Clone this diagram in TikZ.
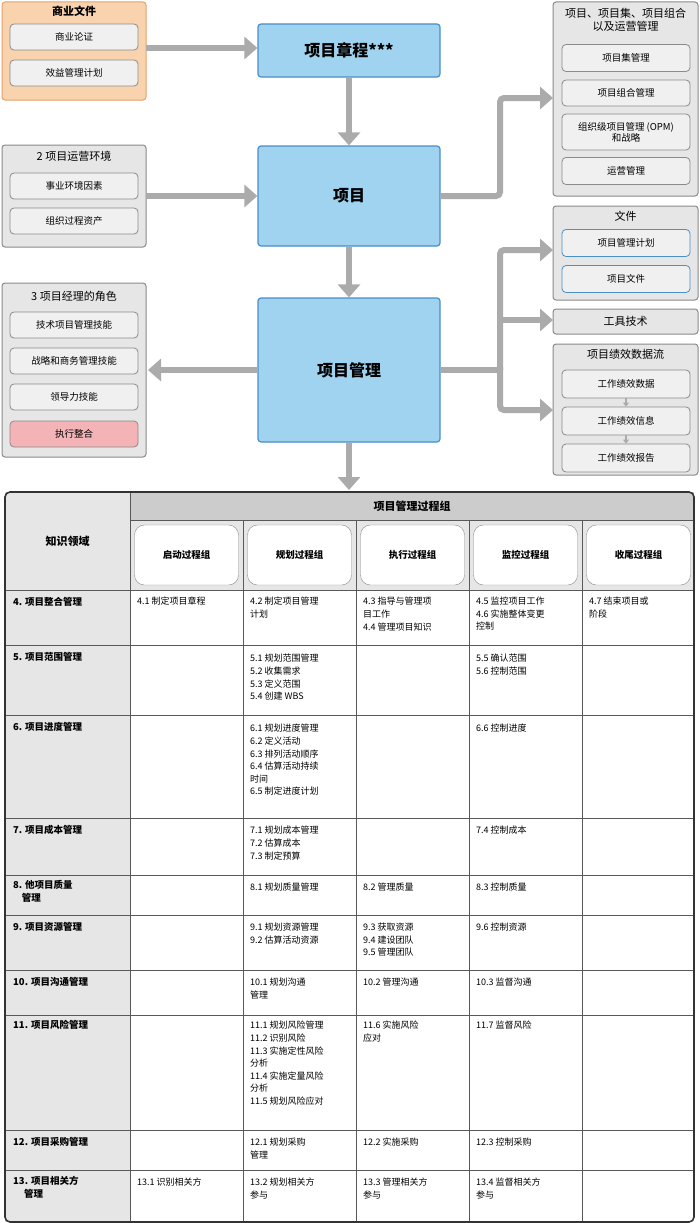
\documentclass[tikz,border=0pt]{standalone}
\usepackage{fontspec}
\setmainfont{Noto Sans CJK SC}
\usetikzlibrary{arrows.meta}
\definecolor{blueF}{HTML}{9FD3F0}\definecolor{blueD}{HTML}{4A8FC6}
\definecolor{orF}{HTML}{F9D3AE}\definecolor{orD}{HTML}{E2A26A}
\definecolor{grF}{HTML}{E6E6E6}\definecolor{grD}{HTML}{8A8A8A}
\definecolor{arr}{HTML}{ABABAB}\definecolor{pinkF}{HTML}{F4B3B7}
\tikzset{
 grp/.style={draw=grD,fill=grF,line width=1pt,rounded corners=3pt},
 org/.style={draw=orD,fill=orF,line width=1pt,rounded corners=3pt},
 inb/.style={draw=grD,fill=grF!60,line width=.8pt,rounded corners=4pt,font=\fontsize{9.5}{11}\selectfont,align=center},
 blu/.style={draw=blueD,fill=blueF,line width=1.2pt,rounded corners=3pt,font=\bfseries\fontsize{16}{18}\selectfont},
 ttl/.style={font=\fontsize{11}{13}\selectfont,align=center},
 big/.style={draw=arr,line width=6pt,-{Triangle[length=13pt,width=22pt]}},
 tbl/.style={draw=black!65,line width=.8pt},
 cell/.style={anchor=north west,align=left,inner sep=0pt,font=\fontsize{9}{12.6}\selectfont},
 kcell/.style={anchor=north west,align=left,inner sep=0pt,font=\bfseries\fontsize{9.5}{13}\selectfont},
}
\newcommand{\ibox}[5]{\node[inb,minimum width=#3-#2,minimum height=#5-#4] (#1) at ({(#2+#3)/2},{(#4+#5)/2}) {};}
\begin{document}
\begin{tikzpicture}[x=1pt,y=-1pt]
\useasboundingbox (0,0) rectangle (700,1223);
\fill[white] (0,0) rectangle (700,1223);
% left groups
\draw[org] (2,2) rectangle (146,100);
\node[ttl,font=\bfseries\fontsize{11}{13}\selectfont] (t1) at (74,11) {商业文件};
\node[inb,minimum width=128,minimum height=26] (b1) at (74,37) {商业论证};
\node[inb,minimum width=128,minimum height=26] (b2) at (74,73) {效益管理计划};
\draw[grp] (2,145) rectangle (146,247);
\node[ttl] (t2) at (74,156) {2 项目运营环境};
\node[inb,minimum width=128,minimum height=26] (b3) at (74,186) {事业环境因素};
\node[inb,minimum width=128,minimum height=26] (b4) at (74,221) {组织过程资产};
\draw[grp] (2,283) rectangle (146,457);
\node[ttl] (t3) at (74,296) {3 项目经理的角色};
\node[inb,minimum width=128,minimum height=26] (b5) at (74,325) {技术项目管理技能};
\node[inb,minimum width=128,minimum height=26] (b6) at (74,361) {战略和商务管理技能};
\node[inb,minimum width=128,minimum height=26] (b7) at (74,397) {领导力技能};
\node[inb,fill=pinkF,minimum width=128,minimum height=26] (b8) at (74,434) {执行整合};
% center
\node[blu,minimum width=182,minimum height=53] (c1) at (349,50.5) {项目章程***};
\node[blu,minimum width=182,minimum height=100] (c2) at (349,196) {项目};
\node[blu,minimum width=182,minimum height=144] (c3) at (349,370) {项目管理};
% right groups
\draw[grp] (553,2) rectangle (698,196);
\node[ttl] (t4) at (625.5,20) {项目、项目集、项目组合\\以及运营管理};
\node[inb,minimum width=128,minimum height=27] (r1) at (626,58) {项目集管理};
\node[inb,minimum width=128,minimum height=26] (r2) at (626,93) {项目组合管理};
\node[inb,minimum width=128,minimum height=36] (r3) at (626,132) {组织级项目管理 (OPM)\\和战略};
\node[inb,minimum width=128,minimum height=27] (r4) at (626,171) {运营管理};
\draw[grp] (553,206) rectangle (698,300);
\node[ttl] (t5) at (625.5,216) {文件};
\node[inb,draw=blueD,minimum width=128,minimum height=27] (r5) at (626,243) {项目管理计划};
\node[inb,draw=blueD,minimum width=128,minimum height=27] (r6) at (626,279) {项目文件};
\node[grp,ttl,minimum width=145,minimum height=25] (r7) at (625.5,321.5) {工具技术};
\draw[grp] (553,344) rectangle (698,475);
\node[ttl] (t6) at (625.5,354) {项目绩效数据流};
\node[inb,minimum width=128,minimum height=28] (r8) at (626,384) {工作绩效数据};
\node[inb,minimum width=128,minimum height=28] (r9) at (626,421) {工作绩效信息};
\node[inb,minimum width=128,minimum height=28] (r10) at (626,458) {工作绩效报告};
\draw[arr,line width=1.5pt,-{Triangle[length=4pt,width=6pt]}] (r8) -- (r9);
\draw[arr,line width=1.5pt,-{Triangle[length=4pt,width=6pt]}] (r9) -- (r10);
% arrows
\coordinate (a0) at (146,48); \coordinate (a1) at (146,196);
\draw[big] (a0) -- (c1.west|-a0);
\draw[big] (a1) -- (c2.west|-a1);
\draw[big] (c1) -- (c2);
\draw[big] (c2) -- (c3);
\coordinate (al) at (148,370);
\draw[big] (c3.west) -- (al);
\coordinate (dn) at (349,490);
\draw[big] (c3.south) -- (dn);
\coordinate (e1) at (553,98);
\draw[big,rounded corners=4pt] (c2.east) -- (500,196) -- (500,98) -- (e1);
\coordinate (e2) at (553,250);\coordinate (e3) at (553,320);\coordinate (e4) at (553,410);
\draw[draw=arr,line width=6pt] (c3.east) -- (500,370);
\draw[big,rounded corners=4pt] (500,370) -- (500,250) -- (e2);
\draw[big] (500,320) -- (e3);
\draw[big,rounded corners=4pt] (500,367) -- (500,410) -- (e4);
% table
\fill[grF] (5,492) rectangle (130,1222);
\fill[black!20] (130,492) rectangle (694,520);
\fill[grF] (130,520) rectangle (694,590);
\foreach \a/\b in {592/645,717/818,877/915,972/1015,1132/1170}{}
\node[font=\bfseries\fontsize{11}{13}\selectfont] (th) at (412,506) {项目管理过程组};
\node[font=\bfseries\fontsize{11}{13}\selectfont] (tk) at (67.5,541) {知识领域};
\foreach \x/\t [count=\i] in {130/启动过程组,243/规划过程组,356/执行过程组,469/监控过程组,582/收尾过程组}{
 \node[draw=grD,fill=white,rounded corners=10pt,minimum width=104,minimum height=60,font=\bfseries\fontsize{9.5}{11}\selectfont] (pg\i) at (\x+56.5,555) {\t};}
\draw[tbl] (130,520) -- (694,520);
\foreach \y in {590,645,715,818,875,915,970,1015,1130,1170} \draw[tbl] (5,\y) -- (694,\y);
\draw[tbl] (130,492) -- (130,1222);
\foreach \x in {243,356,469,582} \draw[tbl] (\x,520) -- (\x,1222);
\draw[line width=1.6pt,draw=black!80,rounded corners=5pt] (5,492) rectangle (694,1222);
% rows
\newcommand{\krow}[3]{\node[kcell] (k#1) at (13,#2) {#3};}
\newcommand{\tc}[4]{\node[cell] (c#1) at (#2,#3) {#4};}
\krow{4}{597}{4. 项目整合管理}
\tc{41}{137}{597}{4.1 制定项目章程}
\tc{42}{250}{597}{4.2 制定项目管理\\计划}
\tc{43}{363}{597}{4.3 指导与管理项\\目工作\\4.4 管理项目知识}
\tc{45}{476}{597}{4.5 监控项目工作\\4.6 实施整体变更\\控制}
\tc{47}{589}{597}{4.7 结束项目或\\阶段}
\krow{5}{652}{5. 项目范围管理}
\tc{51}{250}{654}{5.1 规划范围管理\\5.2 收集需求\\5.3 定义范围\\5.4 创建 WBS}
\tc{55}{476}{654}{5.5 确认范围\\5.6 控制范围}
\krow{6}{722}{6. 项目进度管理}
\tc{61}{250}{724}{6.1 规划进度管理\\6.2 定义活动\\6.3 排列活动顺序\\6.4 估算活动持续\\时间\\6.5 制定进度计划}
\tc{66}{476}{724}{6.6 控制进度}
\krow{7}{825}{7. 项目成本管理}
\tc{71}{250}{826}{7.1 规划成本管理\\7.2 估算成本\\7.3 制定预算}
\tc{74}{476}{826}{7.4 控制成本}
\krow{8}{880}{8. 他项目质量\\\ \ \ \ 管理}
\tc{81}{250}{883}{8.1 规划质量管理}
\tc{82}{363}{883}{8.2 管理质量}
\tc{83}{476}{883}{8.3 控制质量}
\krow{9}{922}{9. 项目资源管理}
\tc{91}{250}{923}{9.1 规划资源管理\\9.2 估算活动资源}
\tc{93}{363}{923}{9.3 获取资源\\9.4 建设团队\\9.5 管理团队}
\tc{96}{476}{923}{9.6 控制资源}
\krow{10}{977}{10. 项目沟通管理}
\tc{101}{250}{978}{10.1 规划沟通\\管理}
\tc{102}{363}{978}{10.2 管理沟通}
\tc{103}{476}{978}{10.3 监督沟通}
\krow{11}{1020}{11. 项目风险管理}
\tc{111}{250}{1021}{11.1 规划风险管理\\11.2 识别风险\\11.3 实施定性风险\\分析\\11.4 实施定量风险\\分析\\11.5 规划风险应对}
\tc{116}{363}{1021}{11.6 实施风险\\应对}
\tc{117}{476}{1021}{11.7 监督风险}
\krow{12}{1137}{12. 项目采购管理}
\tc{121}{250}{1138}{12.1 规划采购\\管理}
\tc{122}{363}{1138}{12.2 实施采购}
\tc{123}{476}{1138}{12.3 控制采购}
\krow{13}{1176}{13. 项目相关方\\\ \ \ \ \ 管理}
\tc{131}{137}{1178}{13.1 识别相关方}
\tc{132}{250}{1178}{13.2 规划相关方\\参与}
\tc{133}{363}{1178}{13.3 管理相关方\\参与}
\tc{134}{476}{1178}{13.4 监督相关方\\参与}
\end{tikzpicture}
\end{document}
